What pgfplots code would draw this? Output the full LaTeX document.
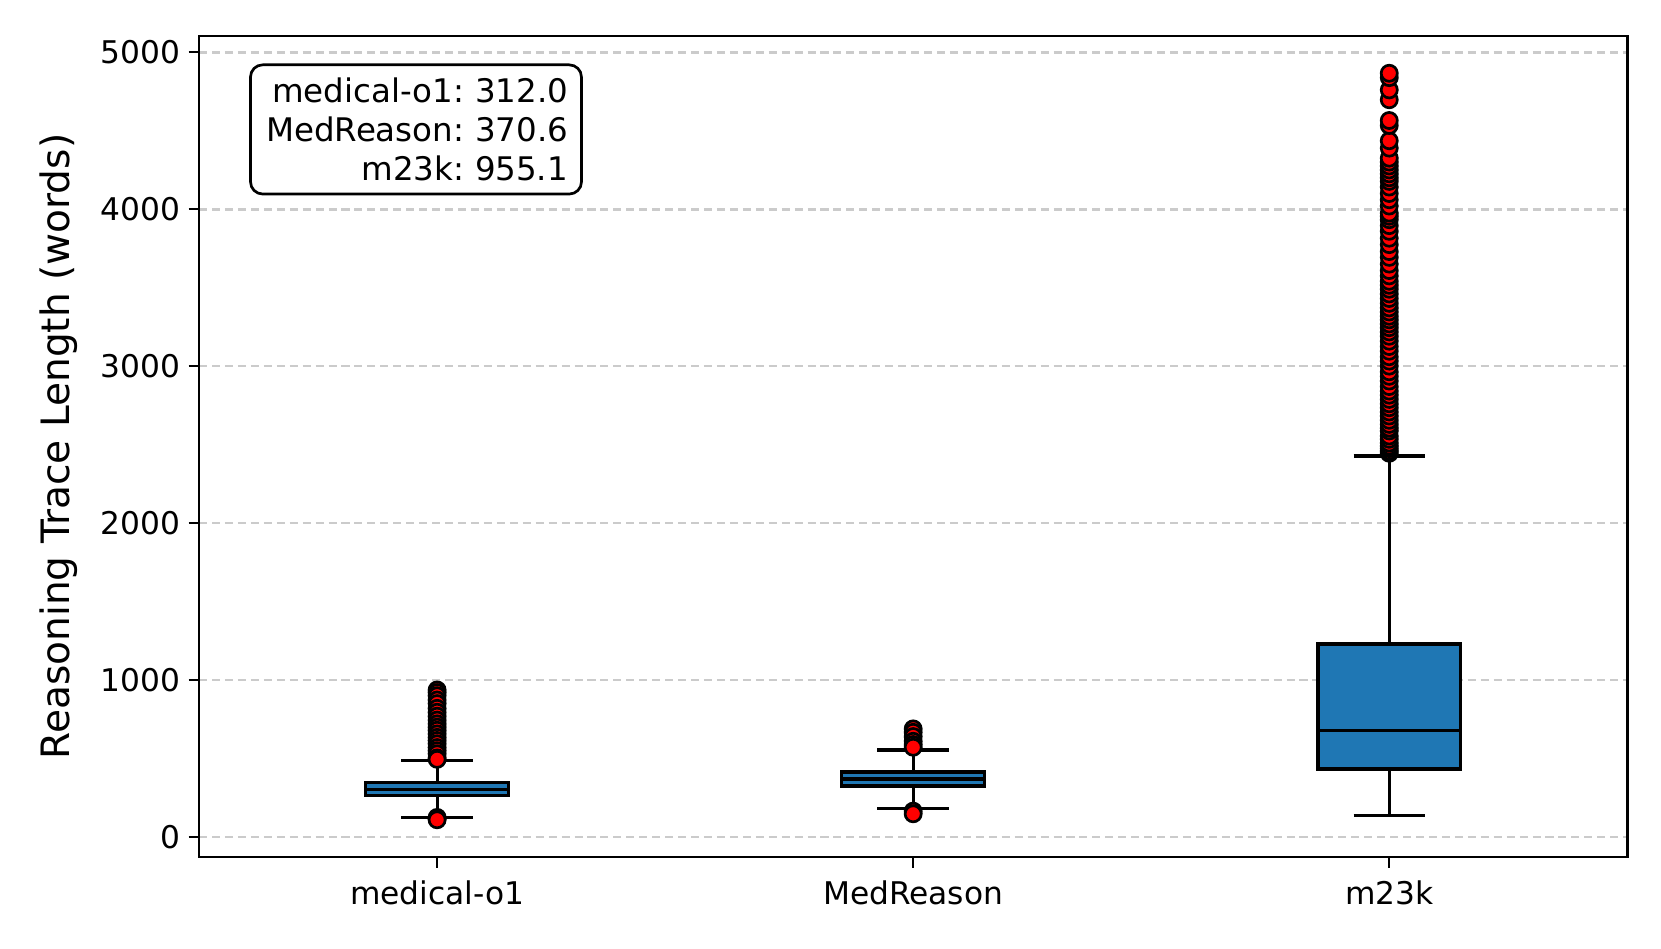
\documentclass[border=0pt]{standalone}
\usepackage{fontspec}
\setmainfont{DejaVu Sans}
\usepackage{pgfplots}
\pgfplotsset{compat=1.18}
\definecolor{mplblue}{HTML}{1F77B4}
\definecolor{gridgray}{HTML}{CBCBCB}
\begin{document}
\frenchspacing
\begin{tikzpicture}
\begin{axis}[
  name=ax,
  scale only axis,
  width=584.7pt, height=336.2pt,
  xmin=0.5, xmax=3.5,
  ymin=-128, ymax=5104,
  xtick={1,2,3},
  xticklabels={medical-o1,MedReason,m23k},
  ytick={0,1000,2000,3000,4000,5000},
  /pgf/number format/1000 sep={},
  /pgf/number format/assume math mode=true,
  tick pos=left,
  tick align=outside,
  major tick length=4.3pt,
  tick style={black, line width=1pt},
  axis line style={line width=1pt},
  ymajorgrids,
  major grid style={gridgray, line width=1.1pt, dash pattern=on 3.3pt off 2pt},
  tick label style={font=\fontsize{12.8}{15}\selectfont},
  xticklabel style={yshift=-2pt},
  ylabel={Reasoning Trace Length (words)},
  ylabel style={font=\fontsize{16}{19}\selectfont, at={(axis description cs:-0.098,0.5)}, anchor=center},
]
% boxes
\addplot[fill=mplblue, draw=black, line width=1.4pt] coordinates {(0.85,265) (1.15,265) (1.15,349) (0.85,349)} -- cycle;
\addplot[fill=mplblue, draw=black, line width=1.4pt] coordinates {(1.85,326) (2.15,326) (2.15,413) (1.85,413)} -- cycle;
\addplot[fill=mplblue, draw=black, line width=1.4pt] coordinates {(2.85,434) (3.15,434) (3.15,1230) (2.85,1230)} -- cycle;
% medians
\addplot[black, line width=1.4pt, unbounded coords=jump] coordinates {
 (0.85,303) (1.15,303) (1.5,nan) (1.85,371) (2.15,371) (2.5,nan) (2.85,678) (3.15,678)};
% whiskers and caps
\addplot[black, line width=1.3pt, unbounded coords=jump] coordinates {
 (1,349) (1,487) (1,nan) (0.925,487) (1.075,487) (1,nan)
 (1,265) (1,127) (1,nan) (0.925,127) (1.075,127) (1,nan)
 (2,413) (2,555) (2,nan) (1.925,555) (2.075,555) (2,nan)
 (2,326) (2,184) (2,nan) (1.925,184) (2.075,184) (2,nan)
 (3,1230) (3,2427) (3,nan) (2.925,2427) (3.075,2427) (3,nan)
 (3,434) (3,135) (3,nan) (2.925,135) (3.075,135)};
% outliers
\addplot[only marks, mark=*, mark size=3.3pt, mark options={fill=red, draw=black, line width=1.1pt}] coordinates {
 (1,937) (1,920) (1,900) (1,873) (1,850) (1,820) (1,795) (1,770) (1,745) (1,721) (1,700)
 (1,680) (1,657) (1,635) (1,615) (1,594) (1,570) (1,550) (1,530) (1,504) (1,495)
 (1,125) (1,116) (1,110)
 (2,689) (2,667) (2,640) (2,610) (2,589) (2,572) (2,165) (2,148)
 (3,2445) (3,2459) (3,2475) (3,2491) (3,2510) (3,2534) (3,2555) (3,2587) (3,2605) (3,2629)
 (3,2655) (3,2682) (3,2708) (3,2735) (3,2760) (3,2788) (3,2815) (3,2841) (3,2870) (3,2905)
 (3,2935) (3,2964) (3,3000) (3,3032) (3,3060) (3,3095) (3,3125) (3,3159) (3,3190) (3,3218)
 (3,3245) (3,3269) (3,3295) (3,3318) (3,3345) (3,3371) (3,3400) (3,3431) (3,3460) (3,3490)
 (3,3515) (3,3541) (3,3575) (3,3609) (3,3650) (3,3693) (3,3730) (3,3774) (3,3815) (3,3859)
 (3,3895) (3,3933) (3,3955) (3,3975) (3,4020) (3,4060) (3,4100) (3,4141) (3,4177) (3,4200)
 (3,4225) (3,4250) (3,4275) (3,4300) (3,4325) (3,4389) (3,4436) (3,4533) (3,4565) (3,4697)
 (3,4760) (3,4838) (3,4866)
};
\node[draw=black, line width=1.1pt, rounded corners=5pt, anchor=north west,
  align=right, inner xsep=5.5pt, inner ysep=5.5pt, text width=124.5pt,
  xshift=20.5pt, yshift=-11.3pt,
  font=\fontsize{13.3}{15.8}\selectfont]
  at (rel axis cs:0,1)
  {medical-o1: 312.0\\MedReason: 370.6\\m23k: 955.1};
\end{axis}
\pgfresetboundingbox
\path ([shift={(-81.5pt,-37.5pt)}]ax.south west) rectangle ([shift={(13.8pt,14.7pt)}]ax.north east);
\end{tikzpicture}
\end{document}
